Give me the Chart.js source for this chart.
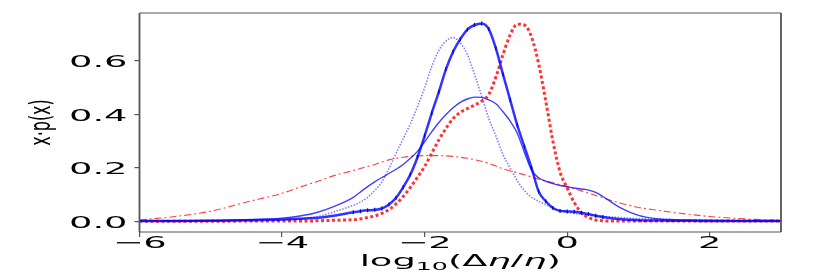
<!DOCTYPE html>
<html>
<head>
<meta charset="utf-8">
<script src="https://cdn.jsdelivr.net/npm/chart.js@4.4.1/dist/chart.umd.min.js"></script>
<style>
  html,body{margin:0;padding:0;background:#fff;}
  canvas{display:block;}
</style>
</head>
<body>
<canvas id="chart" width="822" height="273"></canvas>
<script>
// x grid: log10(deta/eta)
const XS = [-6,-5.5,-5,-4.5,-4,-3.75,-3.5,-3.25,
  -3.0,-2.9,-2.8,-2.7,-2.6,-2.5,-2.4,-2.3,-2.2,-2.1,
  -2.0,-1.9,-1.8,-1.7,-1.6,-1.5,-1.4,-1.3,-1.2,-1.1,
  -1.0,-0.9,-0.8,-0.7,-0.6,-0.5,-0.4,-0.3,-0.2,-0.1,
  0.0,0.1,0.2,0.3,0.4,0.5,
  0.75,1,1.25,1.5,1.75,2,2.5,3];

// thick blue, with tick markers
const blueThick = [0.001,0.001,0.002,0.004,0.007,0.010,0.013,0.022,
  0.034,0.038,0.041,0.043,0.048,0.063,0.088,0.128,0.175,0.240,
  0.320,0.405,0.485,0.570,0.635,0.682,0.718,0.735,0.741,0.720,
  0.648,0.550,0.455,0.360,0.280,0.200,0.112,0.075,0.050,0.039,
  0.037,0.036,0.032,0.027,0.021,0.016,
  0.008,0.004,0.003,0.002,0.002,0.001,0.001,0.001];

// thin blue solid
const blueThin = [0.001,0.002,0.003,0.006,0.012,0.020,0.034,0.058,
  0.090,0.110,0.130,0.148,0.164,0.179,0.195,0.213,0.236,0.262,
  0.298,0.335,0.370,0.400,0.425,0.445,0.458,0.465,0.464,0.455,
  0.440,0.410,0.375,0.330,0.258,0.192,0.163,0.150,0.141,0.134,
  0.129,0.125,0.121,0.117,0.108,0.093,
  0.050,0.022,0.010,0.006,0.004,0.003,0.002,0.001];

// light blue dotted
const blueDotted = [0.001,0.001,0.002,0.003,0.006,0.009,0.018,0.037,
  0.060,0.072,0.090,0.115,0.147,0.198,0.255,0.310,0.365,0.430,
  0.500,0.580,0.640,0.675,0.688,0.668,0.625,0.550,0.470,0.385,
  0.320,0.250,0.200,0.152,0.115,0.090,0.075,0.062,0.050,0.040,
  0.034,0.030,0.026,0.023,0.020,0.018,
  0.014,0.010,0.008,0.006,0.005,0.004,0.002,0.001];

// thick red dotted
const redDotted = [0,0,0,0.001,0.001,0.001,0.002,0.004,
  0.006,0.009,0.014,0.020,0.030,0.044,0.065,0.093,0.127,0.165,
  0.205,0.255,0.305,0.348,0.385,0.408,0.422,0.435,0.450,0.475,
  0.540,0.625,0.698,0.738,0.735,0.690,0.590,0.450,0.300,0.185,
  0.125,0.070,0.032,0.014,0.005,0.002,
  0.001,0.001,0.001,0.001,0.001,0.001,0.001,0.001];

// thin red dash-dot
const redDashDot = [0.005,0.018,0.038,0.072,0.105,0.128,0.150,0.173,
  0.190,0.198,0.205,0.213,0.222,0.230,0.236,0.240,0.243,0.245,
  0.246,0.246,0.246,0.245,0.243,0.240,0.236,0.231,0.225,0.217,
  0.207,0.197,0.189,0.182,0.174,0.166,0.158,0.151,0.144,0.137,
  0.130,0.122,0.114,0.105,0.097,0.088,
  0.068,0.052,0.042,0.033,0.025,0.018,0.009,0.003];

const X_TICKS = [-6,-4,-2,0,2];
const Y_TICKS = [0.0,0.2,0.4,0.6];
const X_TITLE = ['log', '10', '(\u0394', '\u03b7', '/', '\u03b7', ')'];
const Y_TITLE = 'x\u00b7p(x)';

const SX = 2.3;     // horizontal stretch of the original figure text
const FONT = '"DejaVu Sans", sans-serif';

const pts = ys => XS.map((x,i)=>({x:x, y:ys[i]}));

function stretchText(ctx, txt, x, y, align){
  ctx.save();
  ctx.translate(x, y);
  ctx.scale(SX, 1);
  ctx.textAlign = align;
  ctx.fillText(txt, 0, 0);
  ctx.restore();
}

const textPlugin = {
  id: 'textPlugin',
  afterDraw(chart){
    const ctx = chart.ctx, a = chart.chartArea;
    const xs = chart.scales.x, ys = chart.scales.y;
    ctx.save();
    // frame
    ctx.strokeStyle = '#555';
    ctx.lineWidth = 1.1;
    ctx.beginPath();
    ctx.moveTo(a.left, a.top); ctx.lineTo(a.right, a.top);
    ctx.moveTo(a.left, a.bottom); ctx.lineTo(a.right, a.bottom);
    ctx.stroke();
    ctx.lineWidth = 1.8;
    ctx.beginPath();
    ctx.moveTo(a.left, a.top); ctx.lineTo(a.left, a.bottom);
    ctx.moveTo(a.right, a.top); ctx.lineTo(a.right, a.bottom);
    ctx.stroke();

    ctx.fillStyle = '#000';
    ctx.textBaseline = 'alphabetic';
    ctx.font = '16px ' + FONT;
    Y_TICKS.forEach(v=>{
      stretchText(ctx, v.toFixed(1), a.left - 12, ys.getPixelForValue(v) + 6.3, 'right');
    });
    X_TICKS.forEach(v=>{
      const t = v < 0 ? '\u2212' + Math.abs(v) : String(v);
      stretchText(ctx, t, xs.getPixelForValue(v), a.bottom + 16.3, 'center');
    });

    // x title, drawn piece by piece
    const parts = X_TITLE.map((s,i)=>{
      const f = i === 1 ? '11px ' + FONT : (s === '\u03b7' ? 'italic 16px ' + FONT : '16px ' + FONT);
      ctx.font = f;
      return {s, f, w: ctx.measureText(s).width * SX, dy: i === 1 ? 4 : 0};
    });
    const total = parts.reduce((t,p)=>t+p.w, 0);
    let cx = (a.left + a.right) / 2 - total / 2;
    parts.forEach(p=>{
      ctx.font = p.f;
      stretchText(ctx, p.s, cx, 266 + p.dy, 'left');
      cx += p.w;
    });

    // y title, rotated
    ctx.font = '16px ' + FONT;
    ctx.save();
    ctx.translate(50, (a.top + a.bottom) / 2);
    ctx.rotate(-Math.PI / 2);
    ctx.scale(1, 1.8);
    ctx.textAlign = 'center';
    ctx.fillText(Y_TITLE, 0, 0);
    ctx.restore();
    ctx.restore();
  }
};

new Chart(document.getElementById('chart'), {
  type: 'line',
  data: {
    datasets: [
      {data: pts(blueThick), borderColor: 'rgba(0,0,255,0.8)', borderWidth: 2.5,
       pointStyle: 'line', rotation: 90, pointBorderWidth: 1.3, pointBorderColor: 'rgba(0,0,200,0.9)',
       pointRadius: c => (XS[c.dataIndex] >= -3 && XS[c.dataIndex] <= 0.5) ? 2 : 0, order: 0},
      {data: pts(redDotted), borderColor: 'rgba(255,0,0,0.8)', borderWidth: 3,
       borderDash: [3,2.5], pointRadius: 0, order: 1},
      {data: pts(blueThin), borderColor: 'rgba(0,0,255,0.75)', borderWidth: 1.4,
       pointRadius: 0, order: 2},
      {data: pts(blueDotted), borderColor: 'rgba(60,60,255,0.65)', borderWidth: 1.6,
       borderDash: [1.5,1.5], pointRadius: 0, order: 3},
      {data: pts(redDashDot), borderColor: 'rgba(255,30,30,0.85)', borderWidth: 1.1,
       borderDash: [7,3,2,3], pointRadius: 0, order: 4}
    ]
  },
  options: {
    responsive: false,
    devicePixelRatio: 1,
    animation: false,
    layout: {padding: {top: 13, right: 41, left: 0, bottom: 0}},
    plugins: {legend: {display: false}, tooltip: {enabled: false}},
    elements: {line: {fill: false, cubicInterpolationMode: 'monotone'}},
    scales: {
      x: {
        type: 'linear', min: -6, max: 3,
        border: {display: false},
        grid: {drawOnChartArea: false, drawTicks: true, tickLength: 5, color: '#555', lineWidth: 1.2},
        ticks: {display: false},
        afterBuildTicks: s => { s.ticks = X_TICKS.map(v=>({value: v})); },
        afterFit: s => { s.height = 41; }
      },
      y: {
        type: 'linear', min: -0.04, max: 0.78,
        border: {display: false},
        grid: {drawOnChartArea: false, drawTicks: true, tickLength: 5, color: '#555', lineWidth: 1.2},
        ticks: {display: false},
        afterBuildTicks: s => { s.ticks = Y_TICKS.map(v=>({value: v})); },
        afterFit: s => { s.height; s.width = 139.5; }
      }
    }
  },
  plugins: [textPlugin]
});
</script>
</body>
</html>
